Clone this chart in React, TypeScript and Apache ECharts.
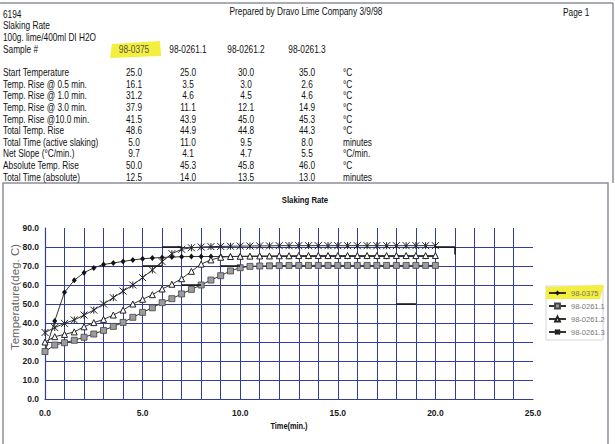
import React, { useEffect, useRef } from "react";
import * as echarts from "echarts";

// ---------- data ----------
const SAMPLES = ["98-0375", "98-0261.1", "98-0261.2", "98-0261.3"];

const ROW_LABELS = [
  "Start Temperature",
  "Temp. Rise @ 0.5 min.",
  "Temp. Rise @ 1.0 min.",
  "Temp. Rise @ 3.0 min.",
  "Temp. Rise @10.0 min.",
  "Total Temp. Rise",
  "Total Time (active slaking)",
  "Net Slope (\u00b0C/min.)",
  "Absolute Temp. Rise",
  "Total Time (absolute)",
];
const ROW_UNITS = ["\u00b0C", "\u00b0C", "\u00b0C", "\u00b0C", "\u00b0C", "\u00b0C", "minutes", "\u00b0C/min.", "\u00b0C", "minutes"];
const COL_0375 = ["25.0", "16.1", "31.2", "37.9", "41.5", "48.6", "5.0", "9.7", "50.0", "12.5"];
const COL_0261_1 = ["25.0", "3.5", "4.6", "11.1", "43.9", "44.9", "11.0", "4.1", "45.3", "14.0"];
const COL_0261_2 = ["30.0", "3.0", "4.5", "12.1", "45.0", "44.8", "9.5", "4.7", "45.8", "13.5"];
const COL_0261_3 = ["35.0", "2.6", "4.6", "14.9", "45.3", "44.3", "8.0", "5.5", "46.0", "13.0"];

const TIME = [0, 0.5, 1, 1.5, 2, 2.5, 3, 3.5, 4, 4.5, 5, 5.5, 6, 6.5, 7, 7.5, 8, 8.5, 9, 9.5, 10,
  10.5, 11, 11.5, 12, 12.5, 13, 13.5, 14, 14.5, 15, 15.5, 16, 16.5, 17, 17.5, 18, 18.5, 19, 19.5, 20];

const T_0375 = [25.0, 41.1, 56.2, 62.5, 66.5, 69.0, 70.8, 71.6, 72.4, 73.2, 73.8, 74.2, 74.5, 74.7, 74.9, 75.0, 75.0,
  75.0, 75.0, 75.0, 75.0, 75.0, 75.0, 75.0, 75.0, 75.0, 75.0, 75.0, 75.0, 75.0, 75.0, 75.0,
  75.0, 75.0, 75.0, 75.0, 75.0, 75.0, 75.0, 75.0, 75.0];
const T_0261_1 = [25.0, 28.4, 29.6, 30.9, 32.5, 34.2, 36.1, 38.2, 40.3, 43.0, 45.6, 48.0, 50.7, 52.8, 55.3, 57.7, 60.0,
  62.6, 64.9, 67.4, 69.1, 69.8, 70.0, 70.1, 70.2, 70.3, 70.3, 70.3, 70.3, 70.3, 70.3, 70.3,
  70.3, 70.3, 70.3, 70.3, 70.3, 70.3, 70.3, 70.3, 70.3];
const T_0261_2 = [30.0, 32.8, 34.0, 35.3, 38.0, 40.2, 41.9, 44.2, 46.8, 50.0, 52.5, 54.9, 57.9, 60.4, 63.3, 67.2, 71.0,
  73.2, 74.6, 75.0, 75.1, 75.2, 75.3, 75.3, 75.4, 75.4, 75.5, 75.5, 75.5, 75.5, 75.5, 75.5,
  75.5, 75.5, 75.5, 75.5, 75.5, 75.5, 75.5, 75.5, 75.5];
const T_0261_3 = [35.0, 37.6, 39.8, 41.6, 44.2, 46.8, 50.0, 53.3, 56.8, 60.0, 63.9, 67.9, 72.3, 76.5, 78.8, 79.6, 80.0,
  80.2, 80.3, 80.4, 80.5, 80.5, 80.6, 80.6, 80.7, 80.7, 80.7, 80.7, 80.7, 80.7, 80.7, 80.7,
  80.7, 80.7, 80.7, 80.7, 80.7, 80.7, 80.7, 80.7, 80.7];

// stray dark segments visible on the scanned chart [x1, y1, x2, y2]
const DARK_SEGMENTS = [
  [6, 80, 7, 80],
  [5, 70, 6, 70],
  [7, 60, 8, 60],
  [9, 70, 10, 70],
  [20, 80, 21, 80],
  [21, 80, 21, 76],
  [18, 50, 19, 50],
];

const FONT = '"Liberation Sans", Arial, sans-serif';
const GRID_COLOR = "#343c98";
const STAR = "path://M0,0L10,10M10,0L0,10M5,0L5,10";

export default function App() {
  const ref = useRef<HTMLDivElement>(null);

  useEffect(() => {
    if (!ref.current) return;
    const chart = echarts.init(ref.current, undefined, { renderer: "svg" });

    const txt = (text: string, x: number, y: number, opts: any = {}) => ({
      type: "text",
      x,
      y,
      z: 10,
      rotation: opts.rotation || 0,
      scaleX: opts.scaleX ?? 0.83,
      style: {
        text,
        fontFamily: FONT,
        fontSize: opts.size || 10,
        fontWeight: opts.weight || "normal",
        fill: opts.color || "#111",
        align: opts.align || "left",
        verticalAlign: "middle",
      },
    });

    const graphics: any[] = [];
    // page frame
    const frame = { stroke: "#8d8f9c", lineWidth: 1.5 };
    graphics.push({ type: "line", shape: { x1: 0, y1: 3, x2: 613, y2: 3 }, style: frame, z: 1 });
    graphics.push({ type: "line", shape: { x1: 613, y1: 3, x2: 613, y2: 183 }, style: frame, z: 1 });
    graphics.push({ type: "polyline", shape: { points: [[3, 444], [3, 183], [608, 183], [608, 444]] }, style: { ...frame, fill: null }, z: 1 });

    // yellow highlights
    graphics.push({ type: "polygon", shape: { points: [[112, 44], [160, 41], [161, 56], [110, 58]] }, style: { fill: "#f4ee3c" }, z: 2 });
    graphics.push({ type: "polygon", shape: { points: [[546, 287], [604, 285], [600, 299], [546, 299]] }, style: { fill: "#f4ee3c" }, z: 2 });
    // legend box
    graphics.push({ type: "rect", shape: { x: 546, y: 286, width: 57, height: 54 }, style: { fill: null, stroke: "#d4d4d8", lineWidth: 1 }, z: 1 });

    // header texts
    graphics.push(txt("6194", 3, 15));
    graphics.push(txt("Prepared by Dravo Lime Company 3/9/98", 306, 12, { align: "center" }));
    graphics.push(txt("Page 1", 563, 13));
    graphics.push(txt("Slaking Rate", 3, 26));
    graphics.push(txt("100g. lime/400ml DI H2O", 3, 38));
    graphics.push(txt("Sample #", 3, 50));
    const colX = [134, 188, 246, 307];
    const cols = [COL_0375, COL_0261_1, COL_0261_2, COL_0261_3];
    SAMPLES.forEach((s, i) => graphics.push(txt(s, colX[i], 50, { align: "center", color: i === 0 ? "#555" : "#111" })));
    ROW_LABELS.forEach((label, r) => {
      const y = 73 + r * 11.6;
      graphics.push(txt(label, 3, y));
      cols.forEach((col, c) => graphics.push(txt(col[r], colX[c], y, { align: "center" })));
      graphics.push(txt(ROW_UNITS[r], 343, y));
    });

    // chart titles
    graphics.push(txt("Slaking Rate", 305, 200, { align: "center", weight: "bold", size: 9, scaleX: 0.86 }));
    graphics.push(txt("Time(min.)", 289, 426, { align: "center", weight: "bold", size: 9, scaleX: 0.82 }));
    graphics.push(txt("Temperature(deg. C)", 15, 297, { align: "center", size: 11.5, color: "#666", rotation: Math.PI / 2, scaleX: 1 }));

    const lineSeries = (name: string, vals: number[], symbol: string, size: any, item: any) => ({
      name,
      type: "line",
      data: TIME.map((t, i) => [t, vals[i]]),
      symbol,
      symbolSize: size,
      showAllSymbol: true,
      lineStyle: { color: "#333", width: 1 },
      itemStyle: item,
      z: 5,
    });

    const tickLabel = {
      formatter: (v: number) => v.toFixed(1),
      fontFamily: FONT,
      fontSize: 8.5,
      fontWeight: "bold",
      color: "#1a1a1a",
    };

    chart.setOption({
      animation: false,
      backgroundColor: "#ffffff",
      grid: { left: 45, right: 82, top: 228, bottom: 45, containLabel: false },
      xAxis: {
        type: "value",
        min: 0,
        max: 25,
        interval: 5,
        axisLine: { show: true, lineStyle: { color: GRID_COLOR, width: 1.2 } },
        axisTick: { show: false },
        minorTick: { show: false, splitNumber: 5 },
        splitLine: { show: true, showMinLine: false, showMaxLine: false, lineStyle: { color: GRID_COLOR, width: 1 } },
        minorSplitLine: { show: true, lineStyle: { color: GRID_COLOR, width: 1 } },
        axisLabel: { ...tickLabel, margin: 9 },
      },
      yAxis: {
        type: "value",
        min: 0,
        max: 90,
        interval: 10,
        axisLine: { show: true, lineStyle: { color: GRID_COLOR, width: 1.2 } },
        axisTick: { show: false },
        splitLine: { show: true, showMinLine: false, showMaxLine: false, lineStyle: { color: GRID_COLOR, width: 1 } },
        axisLabel: { ...tickLabel, margin: 6 },
      },
      legend: {
        data: SAMPLES,
        orient: "vertical",
        left: 548,
        top: 289,
        itemWidth: 17,
        itemHeight: 6,
        itemGap: 5,
        padding: 0,
        textStyle: { fontFamily: FONT, fontSize: 7.5, color: "#777" },
      },
      graphic: graphics,
      series: [
        lineSeries(SAMPLES[0], T_0375, "diamond", [5, 6], { color: "#111" }),
        lineSeries(SAMPLES[1], T_0261_1, "rect", 6, { color: "#9c9c9c", borderColor: "#444", borderWidth: 0.8 }),
        lineSeries(SAMPLES[2], T_0261_2, "triangle", 6, { color: "#ffffff", borderColor: "#222", borderWidth: 1 }),
        lineSeries(SAMPLES[3], T_0261_3, STAR, 7, { color: "#222", borderColor: "#222", borderWidth: 1 }),
        {
          name: "segments",
          type: "lines",
          coordinateSystem: "cartesian2d",
          silent: true,
          z: 6,
          lineStyle: { color: "#111", width: 1.5, opacity: 1 },
          data: DARK_SEGMENTS.map((s) => ({ coords: [[s[0], s[1]], [s[2], s[3]]] })),
        },
      ],
    });

    return () => chart.dispose();
  }, []);

  return <div ref={ref} style={{ position: "fixed", left: 0, top: 0, width: 615, height: 444 }} />;
}
